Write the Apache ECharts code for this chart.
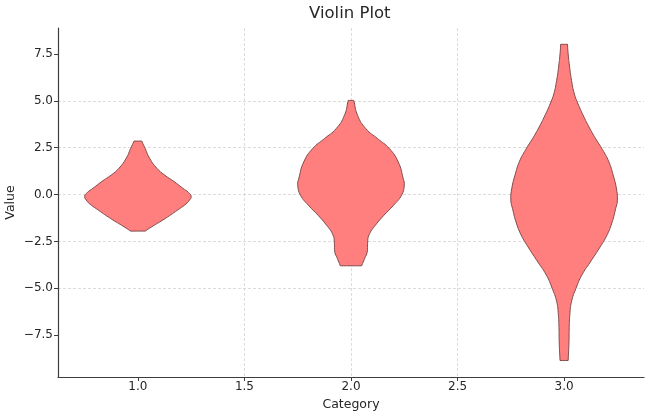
<!DOCTYPE html>
<html>
<head>
<meta charset="utf-8">
<script src="https://cdn.jsdelivr.net/npm/echarts@6/dist/echarts.min.js"></script>
<style>
  html, body { margin: 0; padding: 0; background: #fff; }
  #violinChart { width: 651px; height: 414px; }
</style>
</head>
<body>
<div id="violinChart"></div>
<script>
// category positions and tick labels
var categories = [1, 2, 3];
var xTicks = [1.0, 1.5, 2.0, 2.5, 3.0];
var yTicks = [-7.5, -5.0, -2.5, 0.0, 2.5, 5.0, 7.5];

// violin outlines: value levels (top to bottom) and half widths
var levels1 = [2.85, 2.46, 1.93, 1.4, 1.04, 0.69, 0.34, 0.1, -0.1, -0.3, -0.5, -0.75, -1.28, -1.72, -1.95];
var widths1 = [0.018, 0.034, 0.055, 0.089, 0.125, 0.17, 0.21, 0.238, 0.25, 0.242, 0.226, 0.196, 0.128, 0.065, 0.034];

var levels2 = [5.02, 4.22, 3.51, 2.98, 2.45, 1.73, 0.85, 0.49, -0.04, -0.57, -1.1, -1.63, -2.17, -2.6, -3.06, -3.41, -3.8];
var widths2 = [0.013, 0.031, 0.07, 0.125, 0.18, 0.222, 0.245, 0.25, 0.237, 0.2, 0.155, 0.115, 0.084, 0.078, 0.076, 0.064, 0.05];

var levels3 = [8.01, 7.5, 6.79, 6.08, 5.37, 4.93, 4.31, 3.6, 2.98, 2.4, 1.75, 1.05, 0.35, -0.3, -0.75, -1.45, -2.15, -2.85, -3.6, -4.3, -5.0, -5.7, -6.4, -7.1, -7.85, -8.85];
var widths3 = [0.016, 0.019, 0.026, 0.035, 0.048, 0.062, 0.086, 0.117, 0.148, 0.18, 0.21, 0.23, 0.245, 0.25, 0.242, 0.226, 0.202, 0.166, 0.123, 0.083, 0.056, 0.035, 0.027, 0.024, 0.023, 0.019];

var violinLevels = [levels1, levels2, levels3];
var violinWidths = [widths1, widths2, widths3];

var fontFamily = 'DejaVu Sans';
var textColor = '#262626';
var axisColor = '#3d3d3d';

function fmt(v) {
    return v.toFixed(1).replace('-', '\u2212');
}

var seriesData = categories.map(function (c, i) {
    var lv = violinLevels[i];
    return [c, lv[0], lv[lv.length - 1]];
});

function renderViolin(params, api) {
    var i = params.dataIndex;
    var pos = api.value(0);
    var lv = violinLevels[i];
    var wd = violinWidths[i];
    var last = lv.length - 1;
    var pts = [];
    // right side, top to bottom; corners doubled so the flat ends stay sharp
    for (var k = 0; k <= last; k++) {
        var p = api.coord([pos + wd[k], lv[k]]);
        pts.push(p);
        if (k === 0 || k === last) pts.push(p.slice());
    }
    // left side, bottom to top
    for (var k = last; k >= 0; k--) {
        var q = api.coord([pos - wd[k], lv[k]]);
        pts.push(q);
        if (k === 0 || k === last) pts.push(q.slice());
    }
    return {
        type: 'polygon',
        shape: { points: pts, smooth: 0.5 },
        style: {
            fill: '#ff7f7f',
            stroke: '#7f4a4a',
            lineWidth: 1
        }
    };
}

var option = {
    animation: false,
    textStyle: { fontFamily: fontFamily },
    title: {
        text: 'Violin Plot',
        left: 309,
        top: 5,
        padding: 0,
        textStyle: {
            fontFamily: fontFamily,
            fontSize: 16.5,
            fontWeight: 'normal',
            color: textColor
        }
    },
    grid: {
        left: 58,
        right: 7,
        top: 28,
        bottom: 37,
        containLabel: false,
        outerBoundsMode: 'none'
    },
    xAxis: {
        type: 'value',
        min: 0.625,
        max: 3.375,
        name: 'Category',
        nameLocation: 'middle',
        nameGap: 20,
        nameTextStyle: { fontSize: 12.5, color: textColor, fontFamily: fontFamily },
        axisLine: { onZero: false, lineStyle: { color: axisColor, width: 1.2 } },
        axisTick: {
            show: true,
            customValues: xTicks,
            length: 4,
            lineStyle: { color: axisColor }
        },
        axisLabel: {
            customValues: xTicks,
            formatter: fmt,
            fontSize: 12,
            margin: 4,
            color: textColor
        },
        splitLine: {
            show: true,
            showMinLine: false,
            showMaxLine: false,
            lineStyle: { color: '#d3d3d3', type: [3, 2], width: 0.8 }
        }
    },
    yAxis: {
        type: 'value',
        min: -9.73,
        max: 8.88,
        name: 'Value',
        nameLocation: 'middle',
        nameGap: 41,
        nameMoveOverlap: false,
        nameTextStyle: { fontSize: 12.5, color: textColor, fontFamily: fontFamily },
        axisLine: { show: true, onZero: false, lineStyle: { color: axisColor, width: 1.2 } },
        axisTick: {
            show: true,
            customValues: yTicks,
            length: 4,
            lineStyle: { color: axisColor }
        },
        axisLabel: {
            customValues: yTicks,
            formatter: fmt,
            fontSize: 12,
            margin: 5,
            color: textColor
        },
        splitLine: {
            show: true,
            showMinLine: false,
            showMaxLine: false,
            lineStyle: { color: '#d3d3d3', type: [3, 2], width: 0.8 }
        }
    },
    series: [{
        type: 'custom',
        name: 'Violin',
        renderItem: renderViolin,
        encode: { x: 0, y: [1, 2] },
        data: seriesData,
        clip: true
    }]
};

var violinChart = echarts.init(document.getElementById('violinChart'));
violinChart.setOption(option);
</script>
</body>
</html>
